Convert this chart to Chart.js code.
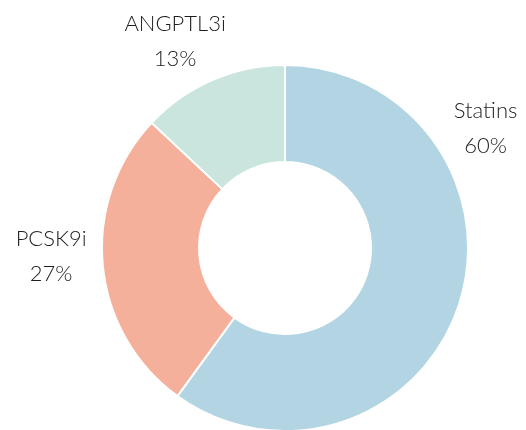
<!DOCTYPE html>
<html>
<head>
<meta charset="utf-8">
<script src="https://cdn.jsdelivr.net/npm/chart.js@4"></script>
<style>
  html, body { margin: 0; padding: 0; background: #fff; overflow: hidden; }
  #wrap { width: 526px; height: 432px; }
</style>
</head>
<body>
<div id="wrap"><canvas id="lipidChart"></canvas></div>
<script>
// Share of lipid-lowering therapies
const labels = ["Statins", "PCSK9i", "ANGPTL3i"];
const shares = [60, 27, 13];
const colors = ["#b3d5e3", "#f4b09b", "#c9e5dd"];
// where each outside label sits, degrees clockwise from 12 o'clock
const labelAngles = [59, 268, 332];

// draws "Name / NN%" outside each slice
const outsideLabels = {
  id: "outsideLabels",
  afterDraw(chart) {
    const ctx = chart.ctx;
    const arcs = chart.getDatasetMeta(0).data;
    ctx.save();
    ctx.fillStyle = "#1e1e1e";
    ctx.font = "300 22px Lato, 'Open Sans', sans-serif";
    ctx.textAlign = "center";
    ctx.textBaseline = "middle";
    arcs.forEach((arc, i) => {
      const a = (labelAngles[i] * Math.PI) / 180;
      const d = arc.outerRadius + 51;
      const x = arc.x + Math.sin(a) * d;
      const y = arc.y - Math.cos(a) * d;
      ctx.fillText(labels[i], x, y - 17);
      ctx.fillText(shares[i] + "%", x, y + 18);
    });
    ctx.restore();
  },
};

const ctx = document.getElementById("lipidChart").getContext("2d");

new Chart(ctx, {
  type: "doughnut",
  data: {
    labels: labels,
    datasets: [
      {
        data: shares,
        backgroundColor: colors,
        borderColor: "#ffffff",
        borderWidth: 2,
      },
    ],
  },
  options: {
    responsive: true,
    maintainAspectRatio: false,
    animation: false,
    cutout: "47%",
    layout: {
      padding: { top: 64, bottom: 0, left: 101, right: 57 },
    },
    plugins: {
      legend: { display: false },
      tooltip: { enabled: false },
    },
  },
  plugins: [outsideLabels],
});
</script>
</body>
</html>
